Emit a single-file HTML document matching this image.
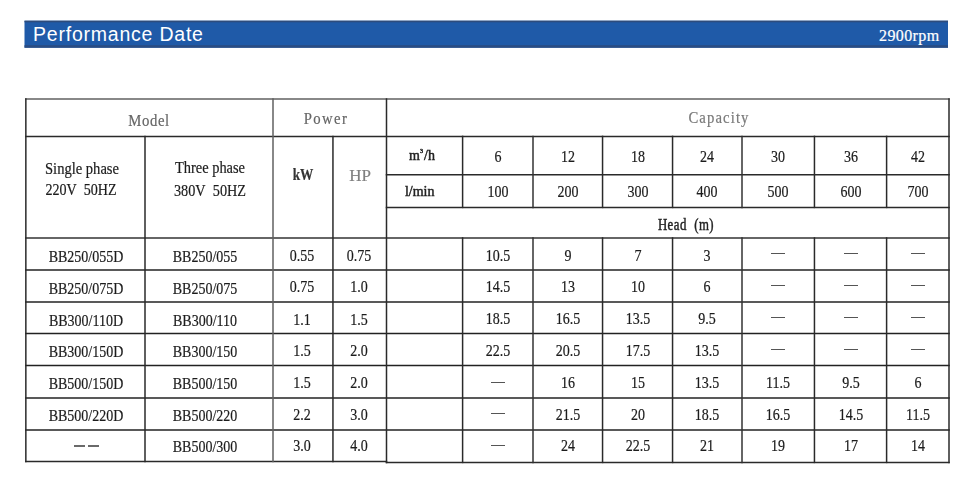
<!DOCTYPE html>
<html><head><meta charset="utf-8"><style>
html,body{margin:0;padding:0;background:#fff;width:977px;height:500px;overflow:hidden;position:relative}
.bar{position:absolute;left:24px;top:21px;width:924px;height:27px;background:#1f5aab}
.title{position:absolute;left:33px;top:23.5px;font-family:"Liberation Sans",sans-serif;font-size:19.5px;line-height:20px;color:#fff;letter-spacing:0.78px;white-space:nowrap}
.rpm{position:absolute;left:879px;top:28px;font-family:"Liberation Serif",serif;font-size:16px;line-height:16px;color:#fff;white-space:nowrap;letter-spacing:0.4px;-webkit-text-stroke:0.2px #fff}
svg{position:absolute;left:0;top:0}
.t{-webkit-text-stroke:0.2px currentColor;position:absolute;width:300px;text-align:center;white-space:nowrap;font-family:"Liberation Serif",serif;line-height:16px;transform-origin:center}
sup{font-size:6px;vertical-align:7px;line-height:0;margin:0 1px 0 0}
.st{-webkit-text-stroke:0.45px #222}
#wrap{position:absolute;left:0;top:0;width:977px;height:500px;filter:blur(0.3px)}
</style></head><body><div id="wrap">
<svg width="977" height="500" viewBox="0 0 977 500">
<rect x="24.5" y="20.7" width="923.5" height="27" fill="#1f5aa8"/>
<rect x="24.5" y="20.7" width="923.5" height="1.6" fill="#2e4c7c"/>
<rect x="24.5" y="45.2" width="923.5" height="2.5" fill="#2a4c82"/>
<line x1="25.10" y1="98.95" x2="949.75" y2="98.95" stroke="#606060" stroke-width="1.5"/>
<line x1="25.10" y1="136.40" x2="949.75" y2="136.40" stroke="#2a2a2a" stroke-width="1.5"/>
<line x1="385.75" y1="174.80" x2="949.75" y2="174.80" stroke="#2a2a2a" stroke-width="1.5"/>
<line x1="385.75" y1="207.40" x2="949.75" y2="207.40" stroke="#2a2a2a" stroke-width="1.5"/>
<line x1="25.10" y1="238.00" x2="949.75" y2="238.00" stroke="#333" stroke-width="1.5"/>
<line x1="25.10" y1="270.00" x2="949.75" y2="270.00" stroke="#222" stroke-width="1.5"/>
<line x1="25.10" y1="302.00" x2="949.75" y2="302.00" stroke="#222" stroke-width="1.5"/>
<line x1="25.10" y1="333.60" x2="949.75" y2="333.60" stroke="#222" stroke-width="1.5"/>
<line x1="25.10" y1="365.60" x2="949.75" y2="365.60" stroke="#222" stroke-width="1.5"/>
<line x1="25.10" y1="397.90" x2="949.75" y2="397.90" stroke="#222" stroke-width="1.5"/>
<line x1="25.10" y1="429.90" x2="949.75" y2="429.90" stroke="#222" stroke-width="1.5"/>
<line x1="25.10" y1="461.60" x2="387.25" y2="461.60" stroke="#2a2a2a" stroke-width="1.5"/>
<line x1="385.75" y1="462.40" x2="949.75" y2="462.40" stroke="#2a2a2a" stroke-width="1.5"/>
<line x1="25.85" y1="98.20" x2="25.85" y2="462.35" stroke="#2a2a2a" stroke-width="1.5"/>
<line x1="949.00" y1="98.20" x2="949.00" y2="463.15" stroke="#2a2a2a" stroke-width="1.5"/>
<line x1="273.00" y1="98.20" x2="273.00" y2="462.35" stroke="#606060" stroke-width="1.5"/>
<line x1="386.50" y1="98.20" x2="386.50" y2="463.15" stroke="#2a2a2a" stroke-width="1.5"/>
<line x1="145.00" y1="135.65" x2="145.00" y2="462.35" stroke="#2a2a2a" stroke-width="1.5"/>
<line x1="332.95" y1="135.65" x2="332.95" y2="462.35" stroke="#2a2a2a" stroke-width="1.5"/>
<line x1="462.60" y1="135.65" x2="462.60" y2="208.15" stroke="#2a2a2a" stroke-width="1.5"/>
<line x1="462.60" y1="237.25" x2="462.60" y2="463.15" stroke="#2a2a2a" stroke-width="1.5"/>
<line x1="533.00" y1="135.65" x2="533.00" y2="208.15" stroke="#333" stroke-width="1.5"/>
<line x1="533.00" y1="237.25" x2="533.00" y2="463.15" stroke="#333" stroke-width="1.5"/>
<line x1="602.55" y1="135.65" x2="602.55" y2="208.15" stroke="#2a2a2a" stroke-width="1.5"/>
<line x1="602.55" y1="237.25" x2="602.55" y2="463.15" stroke="#2a2a2a" stroke-width="1.5"/>
<line x1="672.55" y1="135.65" x2="672.55" y2="208.15" stroke="#2a2a2a" stroke-width="1.5"/>
<line x1="672.55" y1="237.25" x2="672.55" y2="463.15" stroke="#2a2a2a" stroke-width="1.5"/>
<line x1="742.00" y1="135.65" x2="742.00" y2="208.15" stroke="#333" stroke-width="1.5"/>
<line x1="742.00" y1="237.25" x2="742.00" y2="463.15" stroke="#333" stroke-width="1.5"/>
<line x1="814.45" y1="135.65" x2="814.45" y2="208.15" stroke="#2a2a2a" stroke-width="1.5"/>
<line x1="814.45" y1="237.25" x2="814.45" y2="463.15" stroke="#2a2a2a" stroke-width="1.5"/>
<line x1="886.60" y1="135.65" x2="886.60" y2="208.15" stroke="#2a2a2a" stroke-width="1.5"/>
<line x1="886.60" y1="237.25" x2="886.60" y2="463.15" stroke="#2a2a2a" stroke-width="1.5"/>
</svg>
<div class="title">Performance Date</div>
<div class="rpm">2900rpm</div>
<div class="t " style="left:-1.5px;top:113px;font-size:16px;color:#666;font-weight:normal;letter-spacing:0.7px;transform:scaleX(0.92)">Model</div>
<div class="t " style="left:176.0px;top:111px;font-size:16px;color:#666;font-weight:normal;letter-spacing:1.5px;transform:scaleX(0.92)">Power</div>
<div class="t " style="left:568.5px;top:110px;font-size:16px;color:#7a7a7a;font-weight:normal;letter-spacing:1.2px;transform:scaleX(0.92)">Capacity</div>
<div class="t " style="left:-67.9px;top:161px;font-size:16px;color:#1c1c1c;font-weight:normal;letter-spacing:0px;transform:scaleX(0.91)">Single phase</div>
<div class="t " style="left:-68.7px;top:182px;font-size:16px;color:#1c1c1c;font-weight:normal;letter-spacing:0px;transform:scaleX(0.88)">220V&nbsp; 50HZ</div>
<div class="t " style="left:60.1px;top:160px;font-size:16px;color:#1c1c1c;font-weight:normal;letter-spacing:0px;transform:scaleX(0.9)">Three phase</div>
<div class="t " style="left:60.2px;top:183px;font-size:16px;color:#1c1c1c;font-weight:normal;letter-spacing:0px;transform:scaleX(0.89)">380V&nbsp; 50HZ</div>
<div class="t " style="left:152.5px;top:167px;font-size:16px;color:#333;font-weight:bold;letter-spacing:0px;transform:scaleX(0.83)">kW</div>
<div class="t " style="left:210.0px;top:168px;font-size:17px;color:#808080;font-weight:normal;letter-spacing:0px;transform:scaleX(1.0)">HP</div>
<div class="t st" style="left:272.0px;top:148px;font-size:14px;color:#222;font-weight:normal;letter-spacing:0px;transform:scaleX(1.0)">m<sup>3</sup>/h</div>
<div class="t st" style="left:269.7px;top:184px;font-size:14px;color:#222;font-weight:normal;letter-spacing:0px;transform:scaleX(1.0)">l/min</div>
<div class="t " style="left:347.8px;top:149px;font-size:16px;color:#1c1c1c;font-weight:normal;letter-spacing:0px;transform:scaleX(0.875)">6</div>
<div class="t " style="left:347.8px;top:184px;font-size:16px;color:#1c1c1c;font-weight:normal;letter-spacing:0px;transform:scaleX(0.875)">100</div>
<div class="t " style="left:417.8px;top:149px;font-size:16px;color:#1c1c1c;font-weight:normal;letter-spacing:0px;transform:scaleX(0.875)">12</div>
<div class="t " style="left:417.8px;top:184px;font-size:16px;color:#1c1c1c;font-weight:normal;letter-spacing:0px;transform:scaleX(0.875)">200</div>
<div class="t " style="left:487.5px;top:149px;font-size:16px;color:#1c1c1c;font-weight:normal;letter-spacing:0px;transform:scaleX(0.875)">18</div>
<div class="t " style="left:487.5px;top:184px;font-size:16px;color:#1c1c1c;font-weight:normal;letter-spacing:0px;transform:scaleX(0.875)">300</div>
<div class="t " style="left:557.3px;top:149px;font-size:16px;color:#1c1c1c;font-weight:normal;letter-spacing:0px;transform:scaleX(0.875)">24</div>
<div class="t " style="left:557.3px;top:184px;font-size:16px;color:#1c1c1c;font-weight:normal;letter-spacing:0px;transform:scaleX(0.875)">400</div>
<div class="t " style="left:628.2px;top:149px;font-size:16px;color:#1c1c1c;font-weight:normal;letter-spacing:0px;transform:scaleX(0.875)">30</div>
<div class="t " style="left:628.2px;top:184px;font-size:16px;color:#1c1c1c;font-weight:normal;letter-spacing:0px;transform:scaleX(0.875)">500</div>
<div class="t " style="left:700.5px;top:149px;font-size:16px;color:#1c1c1c;font-weight:normal;letter-spacing:0px;transform:scaleX(0.875)">36</div>
<div class="t " style="left:700.5px;top:184px;font-size:16px;color:#1c1c1c;font-weight:normal;letter-spacing:0px;transform:scaleX(0.875)">600</div>
<div class="t " style="left:767.8px;top:149px;font-size:16px;color:#1c1c1c;font-weight:normal;letter-spacing:0px;transform:scaleX(0.875)">42</div>
<div class="t " style="left:767.8px;top:184px;font-size:16px;color:#1c1c1c;font-weight:normal;letter-spacing:0px;transform:scaleX(0.875)">700</div>
<div class="t st" style="left:535.6px;top:217px;font-size:16px;color:#222;font-weight:normal;letter-spacing:0.6px;transform:scaleX(0.8)">Head&nbsp;&nbsp;(m)</div>
<div class="t " style="left:-64.5px;top:249px;font-size:16px;color:#1c1c1c;font-weight:normal;letter-spacing:0px;transform:scaleX(0.875)">BB250/055D</div>
<div class="t " style="left:54.6px;top:249px;font-size:16px;color:#1c1c1c;font-weight:normal;letter-spacing:0px;transform:scaleX(0.875)">BB250/055</div>
<div class="t " style="left:151.5px;top:248px;font-size:16px;color:#1c1c1c;font-weight:normal;letter-spacing:0px;transform:scaleX(0.875)">0.55</div>
<div class="t " style="left:209.0px;top:248px;font-size:16px;color:#1c1c1c;font-weight:normal;letter-spacing:0px;transform:scaleX(0.875)">0.75</div>
<div class="t " style="left:347.8px;top:248px;font-size:16px;color:#1c1c1c;font-weight:normal;letter-spacing:0px;transform:scaleX(0.875)">10.5</div>
<div class="t " style="left:417.8px;top:248px;font-size:16px;color:#1c1c1c;font-weight:normal;letter-spacing:0px;transform:scaleX(0.875)">9</div>
<div class="t " style="left:487.5px;top:248px;font-size:16px;color:#1c1c1c;font-weight:normal;letter-spacing:0px;transform:scaleX(0.875)">7</div>
<div class="t " style="left:557.3px;top:248px;font-size:16px;color:#1c1c1c;font-weight:normal;letter-spacing:0px;transform:scaleX(0.875)">3</div>
<div class="t " style="left:-64.5px;top:281px;font-size:16px;color:#1c1c1c;font-weight:normal;letter-spacing:0px;transform:scaleX(0.875)">BB250/075D</div>
<div class="t " style="left:54.6px;top:281px;font-size:16px;color:#1c1c1c;font-weight:normal;letter-spacing:0px;transform:scaleX(0.875)">BB250/075</div>
<div class="t " style="left:151.5px;top:279px;font-size:16px;color:#1c1c1c;font-weight:normal;letter-spacing:0px;transform:scaleX(0.875)">0.75</div>
<div class="t " style="left:209.0px;top:279px;font-size:16px;color:#1c1c1c;font-weight:normal;letter-spacing:0px;transform:scaleX(0.875)">1.0</div>
<div class="t " style="left:347.8px;top:279px;font-size:16px;color:#1c1c1c;font-weight:normal;letter-spacing:0px;transform:scaleX(0.875)">14.5</div>
<div class="t " style="left:417.8px;top:279px;font-size:16px;color:#1c1c1c;font-weight:normal;letter-spacing:0px;transform:scaleX(0.875)">13</div>
<div class="t " style="left:487.5px;top:279px;font-size:16px;color:#1c1c1c;font-weight:normal;letter-spacing:0px;transform:scaleX(0.875)">10</div>
<div class="t " style="left:557.3px;top:279px;font-size:16px;color:#1c1c1c;font-weight:normal;letter-spacing:0px;transform:scaleX(0.875)">6</div>
<div class="t " style="left:-64.5px;top:313px;font-size:16px;color:#1c1c1c;font-weight:normal;letter-spacing:0px;transform:scaleX(0.875)">BB300/110D</div>
<div class="t " style="left:54.6px;top:313px;font-size:16px;color:#1c1c1c;font-weight:normal;letter-spacing:0px;transform:scaleX(0.875)">BB300/110</div>
<div class="t " style="left:151.5px;top:312px;font-size:16px;color:#1c1c1c;font-weight:normal;letter-spacing:0px;transform:scaleX(0.875)">1.1</div>
<div class="t " style="left:209.0px;top:312px;font-size:16px;color:#1c1c1c;font-weight:normal;letter-spacing:0px;transform:scaleX(0.875)">1.5</div>
<div class="t " style="left:347.8px;top:311px;font-size:16px;color:#1c1c1c;font-weight:normal;letter-spacing:0px;transform:scaleX(0.875)">18.5</div>
<div class="t " style="left:417.8px;top:311px;font-size:16px;color:#1c1c1c;font-weight:normal;letter-spacing:0px;transform:scaleX(0.875)">16.5</div>
<div class="t " style="left:487.5px;top:311px;font-size:16px;color:#1c1c1c;font-weight:normal;letter-spacing:0px;transform:scaleX(0.875)">13.5</div>
<div class="t " style="left:557.3px;top:311px;font-size:16px;color:#1c1c1c;font-weight:normal;letter-spacing:0px;transform:scaleX(0.875)">9.5</div>
<div class="t " style="left:-64.5px;top:344px;font-size:16px;color:#1c1c1c;font-weight:normal;letter-spacing:0px;transform:scaleX(0.875)">BB300/150D</div>
<div class="t " style="left:54.6px;top:344px;font-size:16px;color:#1c1c1c;font-weight:normal;letter-spacing:0px;transform:scaleX(0.875)">BB300/150</div>
<div class="t " style="left:151.5px;top:343px;font-size:16px;color:#1c1c1c;font-weight:normal;letter-spacing:0px;transform:scaleX(0.875)">1.5</div>
<div class="t " style="left:209.0px;top:343px;font-size:16px;color:#1c1c1c;font-weight:normal;letter-spacing:0px;transform:scaleX(0.875)">2.0</div>
<div class="t " style="left:347.8px;top:343px;font-size:16px;color:#1c1c1c;font-weight:normal;letter-spacing:0px;transform:scaleX(0.875)">22.5</div>
<div class="t " style="left:417.8px;top:343px;font-size:16px;color:#1c1c1c;font-weight:normal;letter-spacing:0px;transform:scaleX(0.875)">20.5</div>
<div class="t " style="left:487.5px;top:343px;font-size:16px;color:#1c1c1c;font-weight:normal;letter-spacing:0px;transform:scaleX(0.875)">17.5</div>
<div class="t " style="left:557.3px;top:343px;font-size:16px;color:#1c1c1c;font-weight:normal;letter-spacing:0px;transform:scaleX(0.875)">13.5</div>
<div class="t " style="left:-64.5px;top:376px;font-size:16px;color:#1c1c1c;font-weight:normal;letter-spacing:0px;transform:scaleX(0.875)">BB500/150D</div>
<div class="t " style="left:54.6px;top:376px;font-size:16px;color:#1c1c1c;font-weight:normal;letter-spacing:0px;transform:scaleX(0.875)">BB500/150</div>
<div class="t " style="left:151.5px;top:375px;font-size:16px;color:#1c1c1c;font-weight:normal;letter-spacing:0px;transform:scaleX(0.875)">1.5</div>
<div class="t " style="left:209.0px;top:375px;font-size:16px;color:#1c1c1c;font-weight:normal;letter-spacing:0px;transform:scaleX(0.875)">2.0</div>
<div class="t " style="left:417.8px;top:375px;font-size:16px;color:#1c1c1c;font-weight:normal;letter-spacing:0px;transform:scaleX(0.875)">16</div>
<div class="t " style="left:487.5px;top:375px;font-size:16px;color:#1c1c1c;font-weight:normal;letter-spacing:0px;transform:scaleX(0.875)">15</div>
<div class="t " style="left:557.3px;top:375px;font-size:16px;color:#1c1c1c;font-weight:normal;letter-spacing:0px;transform:scaleX(0.875)">13.5</div>
<div class="t " style="left:628.2px;top:375px;font-size:16px;color:#1c1c1c;font-weight:normal;letter-spacing:0px;transform:scaleX(0.875)">11.5</div>
<div class="t " style="left:700.5px;top:375px;font-size:16px;color:#1c1c1c;font-weight:normal;letter-spacing:0px;transform:scaleX(0.875)">9.5</div>
<div class="t " style="left:767.8px;top:375px;font-size:16px;color:#1c1c1c;font-weight:normal;letter-spacing:0px;transform:scaleX(0.875)">6</div>
<div class="t " style="left:-64.5px;top:408px;font-size:16px;color:#1c1c1c;font-weight:normal;letter-spacing:0px;transform:scaleX(0.875)">BB500/220D</div>
<div class="t " style="left:54.6px;top:408px;font-size:16px;color:#1c1c1c;font-weight:normal;letter-spacing:0px;transform:scaleX(0.875)">BB500/220</div>
<div class="t " style="left:151.5px;top:407px;font-size:16px;color:#1c1c1c;font-weight:normal;letter-spacing:0px;transform:scaleX(0.875)">2.2</div>
<div class="t " style="left:209.0px;top:407px;font-size:16px;color:#1c1c1c;font-weight:normal;letter-spacing:0px;transform:scaleX(0.875)">3.0</div>
<div class="t " style="left:417.8px;top:407px;font-size:16px;color:#1c1c1c;font-weight:normal;letter-spacing:0px;transform:scaleX(0.875)">21.5</div>
<div class="t " style="left:487.5px;top:407px;font-size:16px;color:#1c1c1c;font-weight:normal;letter-spacing:0px;transform:scaleX(0.875)">20</div>
<div class="t " style="left:557.3px;top:407px;font-size:16px;color:#1c1c1c;font-weight:normal;letter-spacing:0px;transform:scaleX(0.875)">18.5</div>
<div class="t " style="left:628.2px;top:407px;font-size:16px;color:#1c1c1c;font-weight:normal;letter-spacing:0px;transform:scaleX(0.875)">16.5</div>
<div class="t " style="left:700.5px;top:407px;font-size:16px;color:#1c1c1c;font-weight:normal;letter-spacing:0px;transform:scaleX(0.875)">14.5</div>
<div class="t " style="left:767.8px;top:407px;font-size:16px;color:#1c1c1c;font-weight:normal;letter-spacing:0px;transform:scaleX(0.875)">11.5</div>
<div class="t " style="left:54.6px;top:439px;font-size:16px;color:#1c1c1c;font-weight:normal;letter-spacing:0px;transform:scaleX(0.875)">BB500/300</div>
<div class="t " style="left:151.5px;top:438px;font-size:16px;color:#1c1c1c;font-weight:normal;letter-spacing:0px;transform:scaleX(0.875)">3.0</div>
<div class="t " style="left:209.0px;top:438px;font-size:16px;color:#1c1c1c;font-weight:normal;letter-spacing:0px;transform:scaleX(0.875)">4.0</div>
<div class="t " style="left:417.8px;top:438px;font-size:16px;color:#1c1c1c;font-weight:normal;letter-spacing:0px;transform:scaleX(0.875)">24</div>
<div class="t " style="left:487.5px;top:438px;font-size:16px;color:#1c1c1c;font-weight:normal;letter-spacing:0px;transform:scaleX(0.875)">22.5</div>
<div class="t " style="left:557.3px;top:438px;font-size:16px;color:#1c1c1c;font-weight:normal;letter-spacing:0px;transform:scaleX(0.875)">21</div>
<div class="t " style="left:628.2px;top:438px;font-size:16px;color:#1c1c1c;font-weight:normal;letter-spacing:0px;transform:scaleX(0.875)">19</div>
<div class="t " style="left:700.5px;top:438px;font-size:16px;color:#1c1c1c;font-weight:normal;letter-spacing:0px;transform:scaleX(0.875)">17</div>
<div class="t " style="left:767.8px;top:438px;font-size:16px;color:#1c1c1c;font-weight:normal;letter-spacing:0px;transform:scaleX(0.875)">14</div>
<div style="position:absolute;left:771px;top:253px;width:14px;height:1px;background:#555"></div>
<div style="position:absolute;left:844px;top:253px;width:14px;height:1px;background:#555"></div>
<div style="position:absolute;left:911px;top:253px;width:14px;height:1px;background:#555"></div>
<div style="position:absolute;left:771px;top:285px;width:14px;height:1px;background:#555"></div>
<div style="position:absolute;left:844px;top:285px;width:14px;height:1px;background:#555"></div>
<div style="position:absolute;left:911px;top:285px;width:14px;height:1px;background:#555"></div>
<div style="position:absolute;left:771px;top:317px;width:14px;height:1px;background:#555"></div>
<div style="position:absolute;left:844px;top:317px;width:14px;height:1px;background:#555"></div>
<div style="position:absolute;left:911px;top:317px;width:14px;height:1px;background:#555"></div>
<div style="position:absolute;left:771px;top:349px;width:14px;height:1px;background:#555"></div>
<div style="position:absolute;left:844px;top:349px;width:14px;height:1px;background:#555"></div>
<div style="position:absolute;left:911px;top:349px;width:14px;height:1px;background:#555"></div>
<div style="position:absolute;left:491px;top:382px;width:14px;height:1px;background:#555"></div>
<div style="position:absolute;left:491px;top:413px;width:14px;height:1px;background:#555"></div>
<div style="position:absolute;left:74px;top:445px;width:11px;height:2px;background:#6a6a6a"></div>
<div style="position:absolute;left:88px;top:445px;width:11px;height:2px;background:#6a6a6a"></div>
<div style="position:absolute;left:491px;top:445px;width:14px;height:1px;background:#555"></div>
</div></body></html>
